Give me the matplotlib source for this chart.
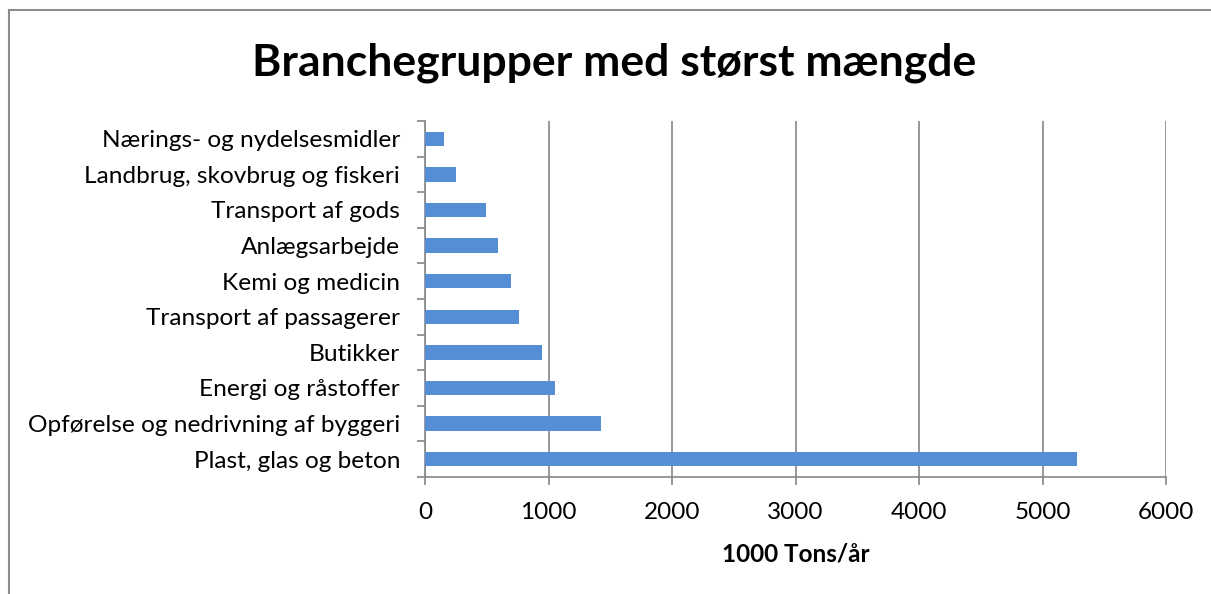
import matplotlib.pyplot as plt
from matplotlib.patches import Rectangle
import numpy as np

# Data (top to bottom as shown in chart)
categories = [
    "Nærings- og nydelsesmidler",
    "Landbrug, skovbrug og fiskeri",
    "Transport af gods",
    "Anlægsarbejde",
    "Kemi og medicin",
    "Transport af passagerer",
    "Butikker",
    "Energi og råstoffer",
    "Opførelse og nedrivning af byggeri",
    "Plast, glas og beton",
]
values = [157, 253, 497, 589, 698, 764, 951, 1049, 1429, 5278]

x_ticks = [0, 1000, 2000, 3000, 4000, 5000, 6000]

plt.rcParams['font.family'] = ['Lato', 'DejaVu Sans']
grey = '#868686'

fig = plt.figure(figsize=(12.11, 5.94), dpi=100)
ax = fig.add_axes([425 / 1211, 1 - 477 / 594, 741 / 1211, 356 / 594])

# frame around the chart
fig.patches.append(Rectangle((9 / 1211, -0.05), 1.1, 1 - 9.5 / 594 + 0.05,
                             transform=fig.transFigure, fill=False,
                             edgecolor='#8c8c8c', linewidth=1.5))

y = np.arange(len(categories))[::-1]
ax.barh(y, values, height=0.4, color='#558ed5', zorder=3)

ax.set_xlim(0, 6000)
ax.set_ylim(-0.5, len(categories) - 0.5)
ax.set_xticks(x_ticks)
ax.set_xticklabels([str(t) for t in x_ticks], fontsize=17.5)
ax.set_yticks(y)
ax.set_yticklabels(categories, fontsize=17.6)
ax.set_yticks(np.arange(len(categories) + 1) - 0.5, minor=True)
ax.tick_params(axis='y', which='major', length=0, pad=18)
ax.tick_params(axis='y', which='minor', length=6, color=grey, width=1.2)
ax.tick_params(axis='x', which='major', length=6, color=grey, width=1.2, pad=12)

ax.grid(axis='x', color=grey, linewidth=1.2, zorder=0)
for s in ['top', 'right']:
    ax.spines[s].set_visible(False)
for s in ['left', 'bottom']:
    ax.spines[s].set_color(grey)
    ax.spines[s].set_linewidth(1.2)

ax.set_xlabel("1000 Tons/år", fontsize=17.5, fontweight='bold', labelpad=14)
fig.text(614 / 1211, 1 - 63 / 594, "Branchegrupper med størst mængde",
         ha='center', va='center', fontsize=32, fontweight='bold')

fig.savefig('out.png', dpi=100)
